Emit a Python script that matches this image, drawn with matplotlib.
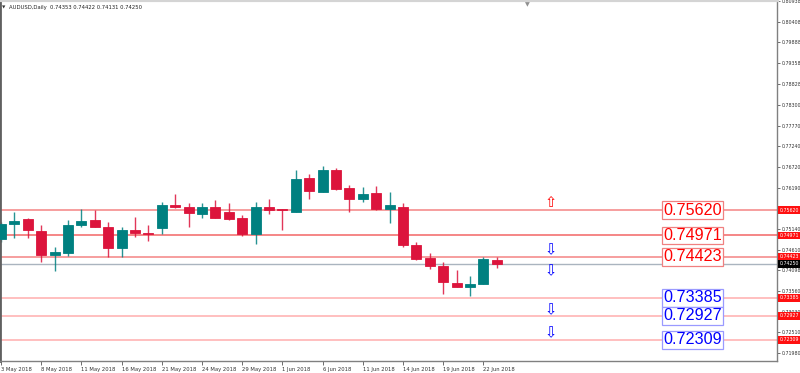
import matplotlib
matplotlib.use("Agg")
import matplotlib.pyplot as plt
import matplotlib.transforms as mtransforms

# ---- data ----
opens  = [0.74881, 0.75256, 0.75383, 0.75085, 0.74482, 0.74517, 0.75238, 0.75373, 0.75187, 0.74645,
          0.75111, 0.75034, 0.75169, 0.75747, 0.75696, 0.75526, 0.75696, 0.75561, 0.75409, 0.75001,
          0.75689, 0.75638, 0.75577, 0.76435, 0.76086, 0.76631, 0.76180, 0.75892, 0.76053, 0.75653,
          0.75704, 0.74736, 0.74405, 0.74201, 0.73761, 0.73659, 0.73735, 0.74353]
highs  = [0.75314, 0.75561, 0.75409, 0.75238, 0.74685, 0.75365, 0.75638, 0.75620, 0.75322, 0.75195,
          0.75434, 0.75238, 0.75831, 0.76020, 0.75806, 0.75791, 0.75875, 0.75791, 0.75493, 0.75816,
          0.75900, 0.75645, 0.76639, 0.76537, 0.76748, 0.76697, 0.76264, 0.76198, 0.76231, 0.76071,
          0.75806, 0.74797, 0.74532, 0.74288, 0.74092, 0.73939, 0.74415, 0.74422]
lows   = [0.74805, 0.74899, 0.74899, 0.74303, 0.74074, 0.74456, 0.75179, 0.75175, 0.74431, 0.74431,
          0.74940, 0.74838, 0.75001, 0.75679, 0.75195, 0.75409, 0.75409, 0.75365, 0.74965, 0.74746,
          0.75510, 0.75111, 0.75570, 0.75900, 0.76080, 0.76129, 0.75561, 0.75831, 0.75620, 0.75281,
          0.74685, 0.74347, 0.74117, 0.73473, 0.73660, 0.73437, 0.73730, 0.74131]
closes = [0.75263, 0.75340, 0.75103, 0.74474, 0.74550, 0.75238, 0.75348, 0.75179, 0.74645, 0.75103,
          0.75042, 0.75016, 0.75747, 0.75696, 0.75536, 0.75696, 0.75424, 0.75398, 0.75016, 0.75696,
          0.75620, 0.75620, 0.76417, 0.76112, 0.76631, 0.76155, 0.75908, 0.76035, 0.75653, 0.75740,
          0.74729, 0.74372, 0.74201, 0.73779, 0.73666, 0.73743, 0.74372, 0.74250]

date_tick_idx = [0, 3, 6, 9, 12, 15, 18, 21, 24, 27, 30, 33, 36]
date_labels = ['3 May 2018', '8 May 2018', '11 May 2018', '16 May 2018', '21 May 2018',
               '24 May 2018', '29 May 2018', '1 Jun 2018', '6 Jun 2018', '11 Jun 2018',
               '14 Jun 2018', '19 Jun 2018', '22 Jun 2018']

price_ticks = [0.80938, 0.80408, 0.79888, 0.79358, 0.78828, 0.78300, 0.77770, 0.77240,
               0.76720, 0.76190, 0.75140, 0.74610, 0.74098, 0.73560, 0.73030, 0.72510, 0.71980]

resistance_levels = [0.75620, 0.74971, 0.74423]
support_levels = [0.73385, 0.72927, 0.72309]
current_price = 0.74250

arrow_up_levels = [0.75800]
arrow_down_levels = [0.74619, 0.74074, 0.73091, 0.72495]

title_text = 'AUDUSD,Daily  0.74353 0.74422 0.74131 0.74250'

# ---- figure ----
fig = plt.figure(figsize=(8.0, 3.73), dpi=100)
ax = fig.add_axes([0.0, 12 / 373, 777 / 800, 1 - 12 / 373])
ax.set_xlim(-0.075, 57.91)
ax.set_ylim(0.71774, 0.80969)

bull = '#008080'
bear = '#dc143c'
n = len(opens)
for i in range(n):
    o, h, l, c = opens[i], highs[i], lows[i], closes[i]
    col = bull if c >= o else bear
    ax.vlines(i, l, h, color=col, lw=1.0, alpha=0.85, zorder=2)
    body = abs(c - o)
    ax.bar(i, max(body, 0.00005), bottom=min(o, c), width=0.76, color=col,
           edgecolor=col, linewidth=0.6, zorder=3)

# horizontal levels
res_colors = ['#f48484', '#f26666', '#f48484']
for lv, col in zip(resistance_levels, res_colors):
    ax.axhline(lv, color=col, lw=1.1, zorder=1)
for lv in support_levels:
    ax.axhline(lv, color='#ffb4b4', lw=1.2, zorder=1)
ax.axhline(current_price, color='#aab4bf', lw=1.0, zorder=1)

# level boxes
xbox = 51.6
for lv in resistance_levels:
    ax.text(xbox, lv, f'{lv:.5f}', ha='center', va='center', fontsize=11.6,
            family='Liberation Sans', color='#ff0000', zorder=5,
            bbox=dict(boxstyle='square,pad=0.08', fc='white', ec='#f08080', lw=0.9))
for lv in support_levels:
    ax.text(xbox, lv, f'{lv:.5f}', ha='center', va='center', fontsize=11.6,
            family='Liberation Sans', color='#0000ff', zorder=5,
            bbox=dict(boxstyle='square,pad=0.08', fc='white', ec='#9a9aff', lw=0.9))

# arrows
xarr = 41.0
for lv in arrow_up_levels:
    ax.text(xarr, lv, '\u21e7', ha='center', va='center', fontsize=10.5,
            family='DejaVu Sans', color='#ff0000', zorder=5)
for lv in arrow_down_levels:
    ax.text(xarr, lv, '\u21e9', ha='center', va='center', fontsize=10.5,
            family='DejaVu Sans', color='#0000ff', zorder=5)

# axes styling
ax.yaxis.tick_right()
ax.set_yticks(price_ticks)
ax.set_yticklabels([f'{p:.5f}' for p in price_ticks])
ax.set_xticks(date_tick_idx)
ax.set_xticklabels(date_labels)
for lab in ax.get_xticklabels():
    lab.set_ha('left')
ax.tick_params(axis='y', direction='out', length=2.5, width=0.6, pad=0.8, labelsize=3.4,
               colors='#555555', labelcolor='#333333')
ax.tick_params(axis='x', direction='out', length=3, width=0.6, pad=1, labelsize=3.8,
               colors='#555555', labelcolor='#333333')
for sp in ['right', 'bottom']:
    ax.spines[sp].set_color('#808080')
    ax.spines[sp].set_linewidth(1.0)
ax.spines['left'].set_color('#606060')
ax.spines['left'].set_linewidth(2.0)
ax.spines['top'].set_color('#d4d4d4')
ax.spines['top'].set_linewidth(3.0)

# axis price labels
blend = mtransforms.blended_transform_factory(ax.transAxes, ax.transData)
for lv in resistance_levels + support_levels:
    ax.text(1.003, lv, f'{lv:.5f}', transform=blend, ha='left', va='center',
            fontsize=3.4, color='white', zorder=6, clip_on=False,
            bbox=dict(boxstyle='square,pad=0.3', fc='#ff1010', ec='none'))
ax.text(1.003, current_price, f'{current_price:.5f}', transform=blend, ha='left', va='center',
        fontsize=3.4, color='white', zorder=6, clip_on=False,
        bbox=dict(boxstyle='square,pad=0.3', fc='#000000', ec='none'))

# title
ax.text(0.003, 0.985, '\u25bc', transform=ax.transAxes, ha='left', va='top',
        fontsize=3.2, color='#333333')
ax.text(0.011, 0.985, title_text, transform=ax.transAxes, ha='left', va='top',
        fontsize=3.8, color='#222222')
ax.text(527 / 777, 0.995, '\u25bc', transform=ax.transAxes, ha='center', va='top',
        fontsize=4.5, color='#909090')

fig.savefig('out.png', dpi=100, facecolor='white')
